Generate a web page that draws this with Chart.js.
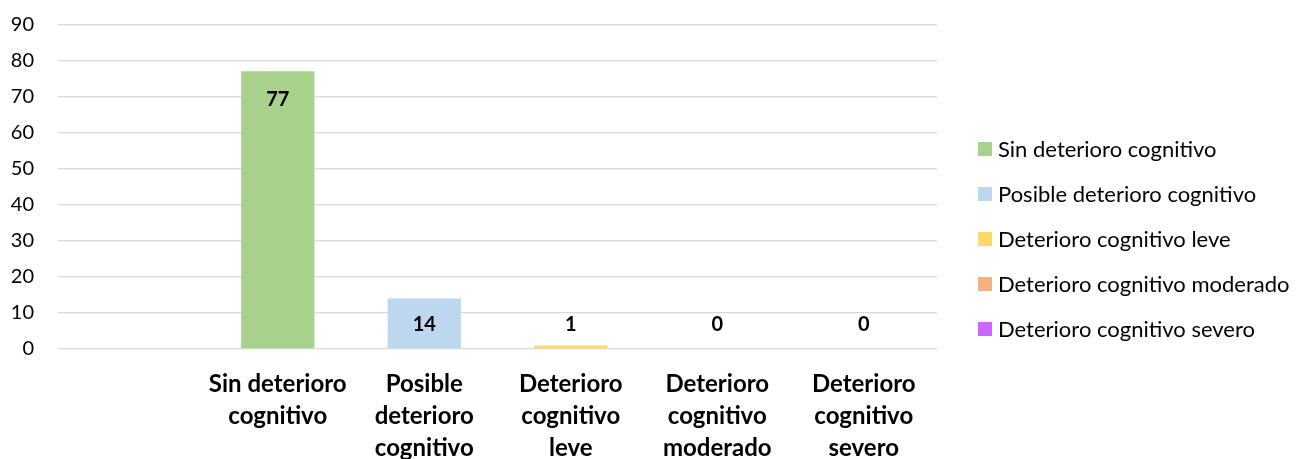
<!DOCTYPE html>
<html>
<head>
<meta charset="utf-8">
<script src="https://cdn.jsdelivr.net/npm/chart.js@4.4.1/dist/chart.umd.min.js"></script>
<style>
  html, body { margin: 0; padding: 0; background: #ffffff; }
  #wrap { width: 1297px; height: 459px; position: relative; }
</style>
</head>
<body>
<div id="wrap"><canvas id="chart" width="1297" height="459"></canvas></div>
<script>
// Categories (first slot is intentionally blank), one series per category
const categories = [
  '',
  ['Sin deterioro', 'cognitivo'],
  ['Posible', 'deterioro', 'cognitivo'],
  ['Deterioro', 'cognitivo', 'leve'],
  ['Deterioro', 'cognitivo', 'moderado'],
  ['Deterioro', 'cognitivo', 'severo']
];
const seriesNames = [
  'Sin deterioro cognitivo',
  'Posible deterioro cognitivo',
  'Deterioro cognitivo leve',
  'Deterioro cognitivo moderado',
  'Deterioro cognitivo severo'
];
const seriesValues = [77, 14, 1, 0, 0];
const seriesColors = ['#a9d18e', '#bdd7ee', '#ffd966', '#f4b183', '#cc66ff'];
const yTicks = { min: 0, max: 90, step: 10 };

const FONT = 'Lato, "Open Sans", sans-serif';

// each series occupies only its own category slot
const datasets = seriesNames.map((name, i) => {
  const data = categories.map(() => null);
  data[i + 1] = seriesValues[i];
  return {
    label: name,
    data: data,
    backgroundColor: seriesColors[i],
    borderWidth: 0,
    categoryPercentage: 1,
    barPercentage: 0.5,
    skipNull: true
  };
});

// value labels, bold, placed inside the top of each bar
const valueLabels = {
  id: 'valueLabels',
  afterDatasetsDraw(chart) {
    const ctx = chart.ctx;
    ctx.save();
    ctx.font = 'bold 20px ' + FONT;
    ctx.fillStyle = '#000000';
    ctx.textAlign = 'center';
    ctx.textBaseline = 'middle';
    chart.data.datasets.forEach((ds, i) => {
      const meta = chart.getDatasetMeta(i);
      ds.data.forEach((v, j) => {
        if (v === null) return;
        const el = meta.data[j];
        const y = Math.min(el.y + 28, el.base - 24);
        ctx.fillText(String(v), el.x, y);
      });
    });
    ctx.restore();
  }
};

// legend on the right, square swatches
const sideLegend = {
  id: 'sideLegend',
  afterDraw(chart) {
    const ctx = chart.ctx;
    ctx.save();
    ctx.font = '22px ' + FONT;
    ctx.textAlign = 'left';
    ctx.textBaseline = 'middle';
    const x0 = 978, y0 = 149, gap = 45, box = 14;
    chart.data.datasets.forEach((ds, i) => {
      const y = y0 + i * gap;
      ctx.fillStyle = ds.backgroundColor;
      ctx.fillRect(x0, y - box / 2, box, box);
      ctx.fillStyle = '#000000';
      ctx.fillText(ds.label, x0 + box + 6, y + 1);
    });
    ctx.restore();
  }
};

new Chart(document.getElementById('chart'), {
  type: 'bar',
  data: { labels: categories, datasets: datasets },
  plugins: [valueLabels, sideLegend],
  options: {
    responsive: false,
    animation: false,
    layout: { padding: { top: 24.5, right: 360, bottom: 0, left: 0 } },
    plugins: {
      legend: { display: false },
      tooltip: { enabled: false }
    },
    scales: {
      x: {
        grid: { display: false, drawTicks: false },
        border: { display: false },
        ticks: {
          color: '#000000',
          font: { family: FONT, size: 24, weight: 'bold', lineHeight: 1.333 },
          padding: 19,
          maxRotation: 0,
          autoSkip: false
        },
        afterFit(scale) { scale.height = 110; }
      },
      y: {
        min: yTicks.min,
        max: yTicks.max,
        grid: { color: '#d9d9d9', lineWidth: 1.3, drawTicks: false },
        border: { display: false },
        ticks: {
          stepSize: yTicks.step,
          color: '#000000',
          font: { family: FONT, size: 20 },
          padding: 24
        },
        afterFit(scale) {
          scale.width = 58;
          scale.paddingTop = 0;
          scale.paddingBottom = 0;
        }
      }
    }
  }
});
</script>
</body>
</html>
